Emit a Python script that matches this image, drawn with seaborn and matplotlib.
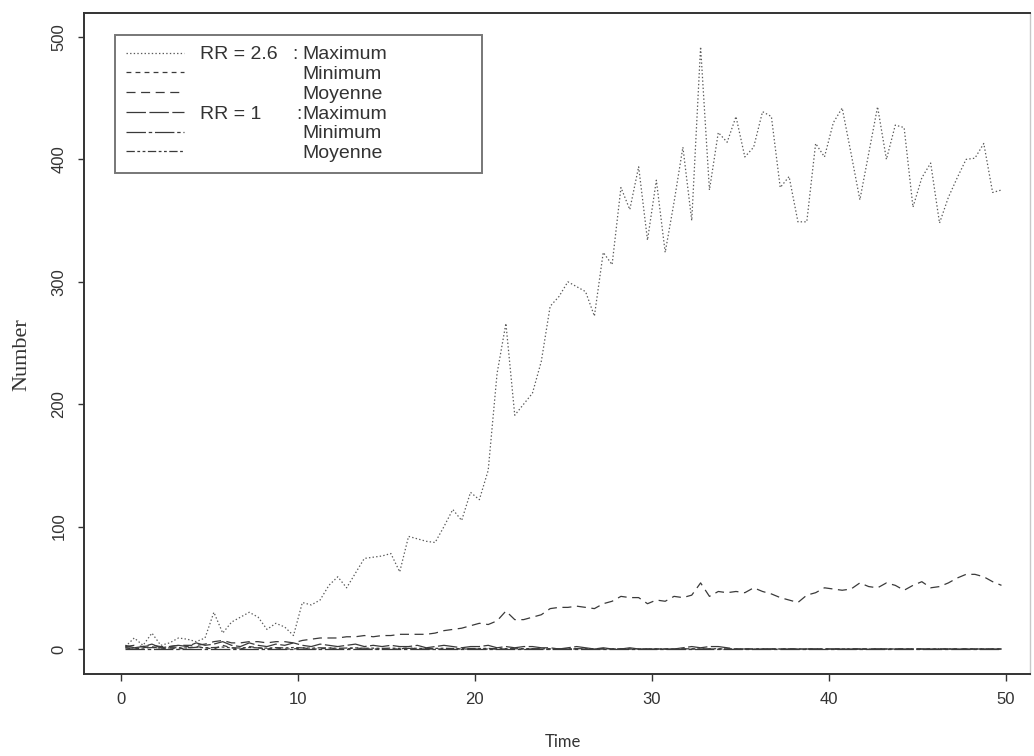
import matplotlib
matplotlib.use("Agg")
import matplotlib.pyplot as plt
import seaborn as sns

# ---------------- data ----------------
time = [0.25 + 0.5 * k for k in range(100)]

rr26_max = [2, 9, 3, 13, 3, 5, 9, 8, 6, 9,
            30, 13, 22, 26, 30, 26, 16, 21, 18, 11,
            38, 36, 40, 52, 59, 50, 62, 74, 75, 76,
            78, 63, 92, 90, 88, 87, 100, 114, 105, 128,
            122, 146, 225, 266, 191, 200, 209, 235, 280, 288,
            300, 296, 292, 272, 324, 314, 377, 359, 394, 334,
            383, 324, 365, 410, 350, 492, 375, 422, 414, 435,
            402, 410, 439, 435, 377, 386, 349, 349, 413, 402,
            430, 442, 405, 367, 405, 443, 400, 428, 426, 361,
            385, 397, 348, 369, 385, 400, 401, 413, 373, 375]

rr26_min = [1, 0, 1, 2, 0, 1, 0, 1, 2, 1,
            0, 3, 1, 0, 2, 1, 0, 1, 0, 0,
            1, 0, 0, 1, 0, 0, 1, 0, 0, 0,
            0, 0, 1, 0, 0, 0, 0, 0, 0, 0,
            0, 0, 0, 0, 0, 0, 0, 0, 0, 0,
            0, 0, 0, 0, 0, 0, 0, 0, 0, 0,
            0, 0, 0, 0, 0, 0, 0, 0, 0, 0,
            0, 0, 0, 0, 0, 0, 0, 0, 0, 0,
            0, 0, 0, 0, 0, 0, 0, 0, 0, 0,
            0, 0, 0, 0, 0, 0, 0, 0, 0, 0]

rr26_moy = [2, 3, 2, 3, 2, 2, 3, 3, 3, 4,
            6, 7, 5, 5, 6, 6, 5, 6, 6, 5,
            7, 8, 9, 9, 9, 10, 10, 11, 10, 11,
            11, 12, 12, 12, 12, 13, 15, 16, 17, 19,
            21, 20, 23, 31, 24, 24, 26, 28, 33, 34,
            34, 35, 34, 33, 37, 39, 43, 42, 42, 37,
            40, 39, 43, 42, 44, 54, 43, 47, 46, 47,
            46, 50, 47, 45, 42, 40, 38, 44, 46, 50,
            49, 48, 49, 54, 51, 50, 54, 52, 48, 52,
            55, 50, 51, 54, 58, 61, 61, 59, 55, 52]

rr1_max = [3, 1, 2, 4, 1, 2, 3, 2, 5, 3,
           4, 6, 3, 2, 5, 3, 2, 4, 3, 5,
           3, 2, 4, 3, 2, 3, 4, 2, 3, 2,
           3, 2, 2, 3, 1, 2, 3, 2, 1, 2,
           2, 3, 1, 2, 1, 2, 2, 1, 1, 0,
           1, 2, 1, 0, 1, 0, 0, 1, 0, 0,
           0, 0, 0, 1, 2, 1, 2, 2, 1, 0,
           0, 0, 0, 0, 0, 0, 0, 0, 0, 0,
           0, 0, 0, 0, 0, 0, 0, 0, 0, 0,
           0, 0, 0, 0, 0, 0, 0, 0, 0, 0]

rr1_min = [0, 0, 0, 0, 0, 0, 0, 0, 0, 0,
           0, 0, 0, 0, 0, 0, 0, 0, 0, 0,
           0, 0, 0, 0, 0, 0, 0, 0, 0, 0,
           0, 0, 0, 0, 0, 0, 0, 0, 0, 0,
           0, 0, 0, 0, 0, 0, 0, 0, 0, 0,
           0, 0, 0, 0, 0, 0, 0, 0, 0, 0,
           0, 0, 0, 0, 0, 0, 0, 0, 0, 0,
           0, 0, 0, 0, 0, 0, 0, 0, 0, 0,
           0, 0, 0, 0, 0, 0, 0, 0, 0, 0,
           0, 0, 0, 0, 0, 0, 0, 0, 0, 0]

rr1_moy = [1.0, 0.6, 0.8, 1.2, 0.7, 0.9, 1.1, 0.8, 1.4, 1.0,
           1.2, 1.6, 1.0, 0.8, 1.3, 0.9, 0.7, 1.1, 0.9, 1.2,
           0.9, 0.7, 1.0, 0.8, 0.6, 0.8, 0.9, 0.6, 0.7, 0.5,
           0.7, 0.5, 0.5, 0.6, 0.3, 0.5, 0.6, 0.4, 0.3, 0.4,
           0.4, 0.5, 0.2, 0.3, 0.2, 0.3, 0.3, 0.2, 0.2, 0.1,
           0.2, 0.3, 0.2, 0.1, 0.2, 0.1, 0.1, 0.1, 0.0, 0.0,
           0.0, 0.0, 0.0, 0.1, 0.2, 0.1, 0.2, 0.2, 0.1, 0.0,
           0.0, 0.0, 0.0, 0.0, 0.0, 0.0, 0.0, 0.0, 0.0, 0.0,
           0.0, 0.0, 0.0, 0.0, 0.0, 0.0, 0.0, 0.0, 0.0, 0.0,
           0.0, 0.0, 0.0, 0.0, 0.0, 0.0, 0.0, 0.0, 0.0, 0.0]

legend_labels = ["Maximum", "Minimum", "Moyenne", "Maximum", "Minimum", "Moyenne"]
group_labels = ["RR = 2.6", "RR = 1"]
x_ticks = [0, 10, 20, 30, 40, 50]
y_ticks = [0, 100, 200, 300, 400, 500]

# ---------------- style ----------------
sns.set_theme(style="white")
plt.rcParams["font.family"] = ["Liberation Sans", "DejaVu Sans"]
plt.rcParams["lines.scale_dashes"] = False

fig = plt.figure(figsize=(10.34, 7.56), dpi=100)
ax = fig.add_axes([0.0812, 0.1085, 0.9149, 0.8743])

series = [
    (rr26_max, "#5a5a5a", (0, (1.0, 1.6)), 0.9),
    (rr26_min, "#3a3a3a", (0, (3.5, 3.0)), 0.9),
    (rr26_moy, "#3a3a3a", (0, (6.5, 4.0)), 0.9),
    (rr1_max, "#3a3a3a", (0, (14.0, 2.5)), 0.9),
    (rr1_min, "#3a3a3a", (0, (14.0, 2.0, 2.5, 2.0)), 0.9),
    (rr1_moy, "#3a3a3a", (0, (6.0, 1.8, 2.0, 1.8, 2.0, 1.8)), 0.9),
]

handles = []
for (vals, col, ls, lw), lab in zip(series, legend_labels):
    sns.lineplot(x=time, y=vals, ax=ax, color=col, linestyle=ls,
                 linewidth=lw, legend=False)
    handles.append(ax.get_lines()[-1])

ax.set_xlim(-2.09, 51.36)
ax.set_ylim(-20.4, 519.6)
ax.set_xticks(x_ticks)
ax.set_yticks(y_ticks)
ax.set_xticklabels([str(v) for v in x_ticks])
ax.set_yticklabels([str(v) for v in y_ticks], rotation=90, va="center")

ax.tick_params(axis="x", direction="out", length=5, width=1.0, pad=8,
               labelsize=12, colors="#333333", bottom=True)
ax.tick_params(axis="y", direction="out", length=4.5, width=1.0, pad=8,
               labelsize=12, colors="#333333", left=True)

for side in ["left", "bottom", "top"]:
    ax.spines[side].set_color("#333333")
    ax.spines[side].set_linewidth(1.4)
ax.spines["right"].set_color("#c8c8c8")
ax.spines["right"].set_linewidth(1.0)

ax.set_ylabel("Number", fontfamily=["Liberation Serif", "DejaVu Serif"],
              fontsize=16, color="#333333", va="center")
ax.yaxis.set_label_coords(-0.0655, 0.4826)
ax.set_xlabel("Time", fontfamily=["Lato", "DejaVu Sans"], fontsize=12,
              color="#333333", va="center")
ax.xaxis.set_label_coords(0.506, -0.103)

leg = ax.legend(handles, legend_labels, loc="upper left",
                bbox_to_anchor=(0.0328, 0.7549, 0.388, 0.2118), mode="expand",
                borderaxespad=0, frameon=True, fancybox=False,
                fontsize=14, handlelength=3.0, handletextpad=6.1,
                labelspacing=0.11, borderpad=0.55)
leg.get_frame().set_edgecolor("#555555")
leg.get_frame().set_linewidth(1.4)
for t in leg.get_texts():
    t.set_color("#333333")

fig.canvas.draw()
renderer = fig.canvas.get_renderer()
W, H = fig.bbox.width, fig.bbox.height
texts = leg.get_texts()
for idx, grp, colon_x in [(0, group_labels[0], 295), (3, group_labels[1], 299)]:
    bb = texts[idx].get_window_extent(renderer)
    yc = (bb.y0 + bb.y1) / 2.0
    fig.text(200 / W, yc / H, grp, ha="left", va="center", fontsize=14,
             color="#333333")
    fig.text(colon_x / W, yc / H, ":", ha="center", va="center", fontsize=14,
             color="#333333")

fig.savefig("out.png", dpi=100)
